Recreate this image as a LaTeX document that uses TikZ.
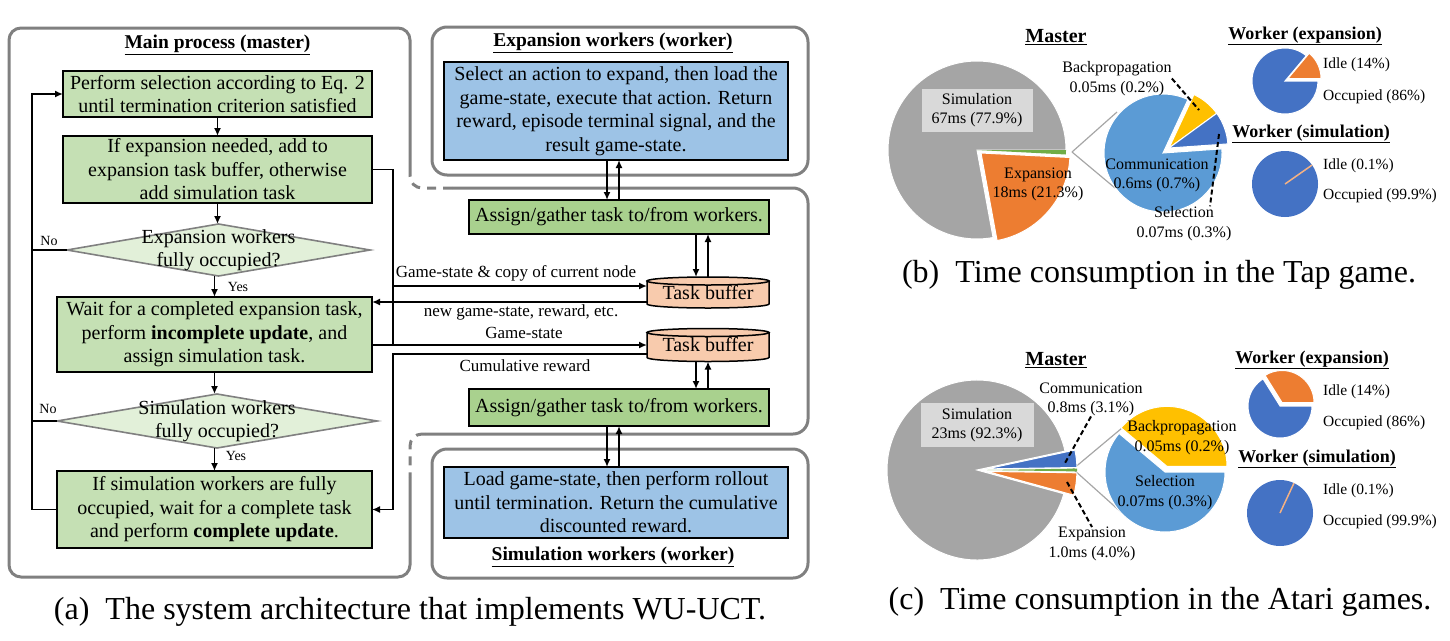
\documentclass[tikz,border=0pt]{standalone}
\usepackage{fontspec}
\setmainfont{Liberation Serif}
\usetikzlibrary{arrows.meta,shapes.geometric}

\definecolor{procgreen}{HTML}{C5E0B4}
\definecolor{decgreen}{HTML}{E2F0D9}
\definecolor{asggreen}{HTML}{A9D18E}
\definecolor{workblue}{HTML}{9DC3E6}
\definecolor{bufpeach}{HTML}{F8CBAD}
\definecolor{framegray}{HTML}{808080}
\definecolor{pgray}{HTML}{A5A5A5}
\definecolor{porange}{HTML}{ED7D31}
\definecolor{pblue}{HTML}{5B9BD5}
\definecolor{pdblue}{HTML}{4472C4}
\definecolor{pyellow}{HTML}{FFC000}
\definecolor{pgreen}{HTML}{70AD47}
\definecolor{ppeach}{HTML}{F4B183}
\definecolor{lblgray}{HTML}{D9D9D9}
\definecolor{linkgray}{HTML}{A6A6A6}

\newcommand{\wuflow}{\fontsize{20pt}{23.5pt}\selectfont}
\newcommand{\wuhead}{\fontsize{19.5pt}{23pt}\selectfont\bfseries}
\newcommand{\wulbl}{\fontsize{17pt}{20pt}\selectfont}
\newcommand{\wuyes}{\fontsize{14pt}{16pt}\selectfont}
\newcommand{\wupie}{\fontsize{16pt}{19.5pt}\selectfont}
\newcommand{\wuwk}{\fontsize{15.5pt}{18pt}\selectfont}
\newcommand{\wuwhead}{\fontsize{18pt}{21pt}\selectfont\bfseries}
\newcommand{\wumaster}{\fontsize{20pt}{23pt}\selectfont\bfseries}
\newcommand{\wucap}{\fontsize{32pt}{38pt}\selectfont}

% one slice of a pie, drawn round (0,0)
\newcommand{\pieslice}[4]{\fill[#4, draw=white, line width=1pt] (0,0) -- (#1:#3) arc[start angle=#1, end angle=#2, radius=#3] -- cycle;}

\pgfdeclarelayer{bg}
\pgfsetlayers{bg,main}

\tikzset{
	wuframe/.style={draw=framegray, line width=3pt},
	group/.style={wuframe, rounded corners=15pt, inner sep=0pt, outer sep=0pt},
	proc/.style={draw, line width=1.7pt, fill=procgreen, align=center, inner sep=0pt, outer sep=0pt, font=\wuflow},
	dec/.style={diamond, draw=framegray, line width=1.6pt, fill=decgreen, inner sep=0pt, outer sep=0pt},
	dectext/.style={align=center, font=\wuflow, inner sep=0pt},
	work/.style={proc, fill=workblue},
	assign/.style={proc, fill=asggreen},
	buf/.style={align=center, font=\wuflow, inner sep=0pt, outer sep=0pt},
	bufshape/.style={draw, line width=1.5pt, fill=bufpeach},
	head/.style={font=\wuhead, inner sep=0pt},
	lbl/.style={font=\wulbl, inner sep=0pt},
	yn/.style={font=\wuyes, inner sep=0pt},
	wire/.style={line width=1.7pt},
	arr/.style={wire, -{Latex[length=8pt,width=7pt]}},
	piel/.style={font=\wupie, align=center, inner sep=0pt},
	simbox/.style={piel, fill=lblgray, minimum width=111pt, minimum height=43pt},
	wkl/.style={font=\wuwk, anchor=west, inner sep=0pt},
	whead/.style={font=\wuwhead, inner sep=0pt},
	mhead/.style={font=\wumaster, inner sep=0pt},
	leader/.style={line width=2pt, dash pattern=on 5pt off 3pt},
	link/.style={draw=linkgray, line width=1.2pt},
	captxt/.style={font=\wucap, inner sep=0pt}
}

\begin{document}
\begin{tikzpicture}[x=1pt,y=-1pt]
	\useasboundingbox (0,0) rectangle (1450,640);

	% (a) frames of the master and the two worker groups
	\draw[wuframe, rounded corners=12pt] (410,175) -- (410,28) -- (9,28) -- (9,577) -- (410,577) -- (410,477);
	\draw[wuframe, rounded corners=15pt] (425,434) -- (808,434) -- (808,188) -- (452,188);
	\draw[wuframe, dash pattern=on 9pt off 7pt, rounded corners=12pt] (452,188) -- (410,188) -- (410,175);
	\draw[wuframe, dash pattern=on 9pt off 7pt, rounded corners=12pt] (425,434) -- (410,434) -- (410,477);
	\node at (620,101) [group, minimum width=376pt, minimum height=148pt] (exw) {};
	\node at (620,513.5) [group, minimum width=376pt, minimum height=129pt] (smw) {};

	% main process
	\node at (217.5,45) [head] (mtitle) {\underline{Main process (master)}};
	\node at (217.5,94) [proc, minimum width=309pt, minimum height=46pt] (sel) {Perform selection according to Eq. 2\\until termination criterion satisfied};
	\node at (217.5,169.5) [proc, minimum width=309pt, minimum height=67pt] (expn) {If expansion needed, add to\\expansion task buffer, otherwise\\add simulation task};
	\node at (218.5,250) [dec, minimum width=303pt, minimum height=52pt] (qexp) {};
	\node at (qexp) [dectext] (qexpt) {Expansion workers\\fully occupied?};
	\node at (214.5,334.5) [proc, minimum width=315pt, minimum height=75pt] (wexp) {Wait for a completed expansion task,\\perform \textbf{incomplete update}, and\\assign simulation task.};
	\node at (217,421) [dec, minimum width=320pt, minimum height=54pt] (qsim) {};
	\node at (qsim) [dectext] (qsimt) {Simulation workers\\fully occupied?};
	\node at (214.5,509.5) [proc, minimum width=315pt, minimum height=77pt] (wsim) {If simulation workers are fully\\occupied, wait for a complete task\\and perform \textbf{complete update}.};

	\node at (49,241) [yn] (no1) {No};
	\node at (48,409) [yn] (no2) {No};
	\node at (238,287) [yn] (yes1) {Yes};
	\node at (236,456) [yn] (yes2) {Yes};

	\draw[arr] (sel) -- (expn);
	\draw[arr] (expn.south) -- (expn.south |- qexp.north);
	\draw[arr] (wexp.north |- qexp.south) -- (wexp.north);
	\draw[arr] (wexp.south) -- (wexp.south |- qsim.north);
	\draw[arr] (wsim.north |- qsim.south) -- (wsim.north);

	\coordinate (lp) at (32,0);
	\draw[arr] (wsim.west) -- (wsim.west -| lp) |- (sel.west);
	\draw[wire] (qexp.west) -- (qexp.west -| lp);
	\draw[wire] (qsim.west) -- (qsim.west -| lp);

	% expansion workers
	\node at (613,43) [head] (exwt) {\underline{Expansion workers (worker)}};
	\node at (616,111) [work, minimum width=344pt, minimum height=98pt] (exb) {Select an action to expand, then load the\\game-state, execute that action. Return\\reward, episode terminal signal, and the\\result game-state.};
	\node at (619,217) [assign, minimum width=300pt, minimum height=34pt] (asg1) {Assign/gather task to/from workers.};

	% task buffers
	\node at (708,292.5) [buf, minimum width=122pt, minimum height=31pt] (tb1) {Task buffer};
	\node at (708,345) [buf, minimum width=122pt, minimum height=33pt] (tb2) {Task buffer};
	\begin{pgfonlayer}{bg}
	\foreach \b in {tb1,tb2} {
		\draw[bufshape] ([yshift=-4pt]\b.north west) -- ([yshift=4pt]\b.south west) arc[start angle=180, end angle=360, x radius=61pt, y radius=4pt] -- ([yshift=-4pt]\b.north east) -- cycle;
		\draw[bufshape] ([yshift=-4pt]\b.north) ellipse[x radius=61pt, y radius=4pt];
	}
	\end{pgfonlayer}

	\node at (619,407.5) [assign, minimum width=300pt, minimum height=37pt] (asg2) {Assign/gather task to/from workers.};

	% simulation workers
	\node at (616,502.5) [work, minimum width=344pt, minimum height=71pt] (smb) {Load game-state, then perform rollout\\until termination. Return the cumulative\\discounted reward.};
	\node at (613,557) [head] (smwt) {\underline{Simulation workers (worker)}};

	% worker links
	\coordinate (dnA) at (607,0);
	\coordinate (upA) at (619,0);
	\coordinate (dnB) at (696,0);
	\coordinate (upB) at (708,0);
	\draw[arr] (exb.south -| dnA) -- (asg1.north -| dnA);
	\draw[arr] (asg1.north -| upA) -- (exb.south -| upA);
	\draw[arr] (asg1.south -| dnB) -- (tb1.north -| dnB);
	\draw[arr] (tb1.north -| upB) -- (asg1.south -| upB);
	\draw[arr] (tb2.south -| dnB) -- (asg2.north -| dnB);
	\draw[arr] (asg2.north -| upB) -- (tb2.south -| upB);
	\draw[arr] (asg2.south -| dnA) -- (smb.north -| dnA);
	\draw[arr] (smb.north -| upA) -- (asg2.south -| upA);

	% master <-> buffers
	\coordinate (rl) at (393,0);
	\coordinate (gsA) at (393,286);
	\coordinate (gsB) at (393,345);
	\coordinate (nwC) at (0,302);
	\coordinate (cmD) at (0,354);
	\draw[wire] (expn.east) -| (gsB);
	\draw[arr] (gsA) -- (gsA -| tb1.west);
	\draw[arr] (nwC -| tb1.west) -- (nwC -| wexp.east);
	\draw[arr] (gsB -| wexp.east) -- (gsB -| tb2.west);
	\draw[arr] (cmD -| tb2.west) -| (rl |- wsim.east) -- (wsim.east);

	\node at (516,273) [lbl] (lgs) {Game-state \& copy of current node};
	\node at (521,312) [lbl] (lnw) {new game-state, reward, etc.};
	\node at (524,333) [lbl] (lgs2) {Game-state};
	\node at (525,366) [lbl] (lcr) {Cumulative reward};

	\node at (410,612) [captxt] (capa) {(a)\enspace The system architecture that implements WU-UCT.};

	% (b) Tap game
	\coordinate (ppB) at (1072,152);
	\coordinate (ppB1) at (1117,112);
	\coordinate (ppB2) at (1115,188);
	\draw[link] (ppB) -- (ppB1);
	\draw[link] (ppB) -- (ppB2);
	\begin{scope}[shift={(977,150)}, y=1pt]
		\pieslice{0}{280.4}{89}{pgray}
		\fill[pgreen] (0,0) -- (-2.9:89) arc[start angle=-2.9, end angle=0, radius=89] -- cycle;
		\begin{scope}[shift={(4,-3)}]
			\pieslice{-79.6}{-2.9}{89}{porange}
		\end{scope}
	\end{scope}
	\begin{scope}[shift={(1163,153)}, y=1pt]
		\pieslice{65}{364}{59}{pblue}
		\begin{scope}[shift={(6,5)}]
			\pieslice{36}{65}{59}{pyellow}
			\pieslice{4}{36}{59}{pdblue}
		\end{scope}
	\end{scope}
	\begin{scope}[shift={(1285,81)}, y=1pt]
		\pieslice{50}{360}{33}{pdblue}
		\begin{scope}[shift={(3,2.5)}]
			\pieslice{0}{50}{33}{porange}
		\end{scope}
	\end{scope}
	\begin{scope}[shift={(1285,184)}, y=1pt]
		\fill[pdblue] (0,0) circle[radius=33];
		\draw[ppeach, line width=1.5pt] (0,0) -- (35:33);
	\end{scope}

	\node at (1056,37) [mhead] (mastb) {\underline{Master}};
	\node at (977,110) [simbox] (simb) {Simulation\\67ms (77.9\%)};
	\node at (1038,184.5) [piel] (expb) {Expansion\\18ms (21.3\%)};
	\node at (1117,78.5) [piel] (bpb) {Backpropagation\\0.05ms (0.2\%)};
	\node at (1157,175.5) [piel] (cmb) {Communication\\0.6ms (0.7\%)};
	\node at (1184,223.5) [piel] (slb) {Selection\\0.07ms (0.3\%)};
	\coordinate (bpTipB) at (1199,110);
	\coordinate (slTipB) at (1219,134);
	\draw[leader] (bpb.east) -- (bpTipB);
	\draw[leader] (slTipB) -- ([xshift=26pt]slb.north);

	\node at (1305,36) [whead] (wxb) {\underline{Worker (expansion)}};
	\node at (1311,134) [whead] (wsb) {\underline{Worker (simulation)}};
	\node at (1323,65) [wkl] (idxb) {Idle (14\%)};
	\node at (1323,97) [wkl] (ocxb) {Occupied (86\%)};
	\node at (1323,166) [wkl] (idsb) {Idle (0.1\%)};
	\node at (1323,196) [wkl] (ocsb) {Occupied (99.9\%)};

	\node at (1159,275) [captxt] (capb) {(b)\enspace Time consumption in the Tap game.};

	% (c) Atari games
	\coordinate (ppC) at (1073,469);
	\coordinate (ppC1) at (1122,428);
	\coordinate (ppC2) at (1122,513);
	\draw[link] (ppC) -- (ppC1);
	\draw[link] (ppC) -- (ppC2);
	\begin{scope}[shift={(977,470)}, y=1pt]
		\pieslice{12.1}{344.7}{90}{pgray}
		\begin{scope}[shift={(9.9,1.1)}]
			\pieslice{0.9}{12.1}{90}{pdblue}
		\end{scope}
		\begin{scope}[shift={(10,0)}]
			\fill[pgreen] (0,0) -- (-0.9:90) arc[start angle=-0.9, end angle=0.9, radius=90] -- cycle;
		\end{scope}
		\begin{scope}[shift={(9.9,-1.4)}]
			\pieslice{-15.3}{-0.9}{90}{porange}
		\end{scope}
	\end{scope}
	\begin{scope}[shift={(1165,472)}, y=1pt]
		\pieslice{140}{360}{60}{pblue}
		\begin{scope}[shift={(2,5.6)}]
			\pieslice{0}{140}{60}{pyellow}
		\end{scope}
	\end{scope}
	\begin{scope}[shift={(1280,406)}, y=1pt]
		\pieslice{122}{360}{32}{pdblue}
		\begin{scope}[shift={(2,3.5)}]
			\pieslice{0}{122}{32}{porange}
		\end{scope}
	\end{scope}
	\begin{scope}[shift={(1280,513)}, y=1pt]
		\fill[pdblue] (0,0) circle[radius=33];
		\draw[ppeach, line width=1.5pt] (0,0) -- (65:33);
	\end{scope}

	\node at (1056,360) [mhead] (mastc) {\underline{Master}};
	\node at (977,425) [simbox, minimum width=113pt, minimum height=44pt] (simc) {Simulation\\23ms (92.3\%)};
	\node at (1091,399.5) [piel] (cmc) {Communication\\0.8ms (3.1\%)};
	\node at (1092,544) [piel] (expc) {Expansion\\1.0ms (4.0\%)};
	\node at (1182,437.5) [piel] (bpc) {Backpropagation\\0.05ms (0.2\%)};
	\node at (1165,492.5) [piel] (slc) {Selection\\0.07ms (0.3\%)};
	\coordinate (cmTipC) at (1065,463);
	\coordinate (exTipC) at (1067,482);
	\draw[leader] (cmc.south) -- (cmTipC);
	\draw[leader] (exTipC) -- (expc.north);

	\node at (1312,360) [whead] (wxc) {\underline{Worker (expansion)}};
	\node at (1317,459) [whead] (wsc) {\underline{Worker (simulation)}};
	\node at (1323,392) [wkl] (idxc) {Idle (14\%)};
	\node at (1323,423) [wkl] (ocxc) {Occupied (86\%)};
	\node at (1323,491) [wkl] (idsc) {Idle (0.1\%)};
	\node at (1323,522) [wkl] (ocsc) {Occupied (99.9\%)};

	\node at (1160,602) [captxt] (capc) {(c)\enspace Time consumption in the Atari games.};
\end{tikzpicture}
\end{document}
